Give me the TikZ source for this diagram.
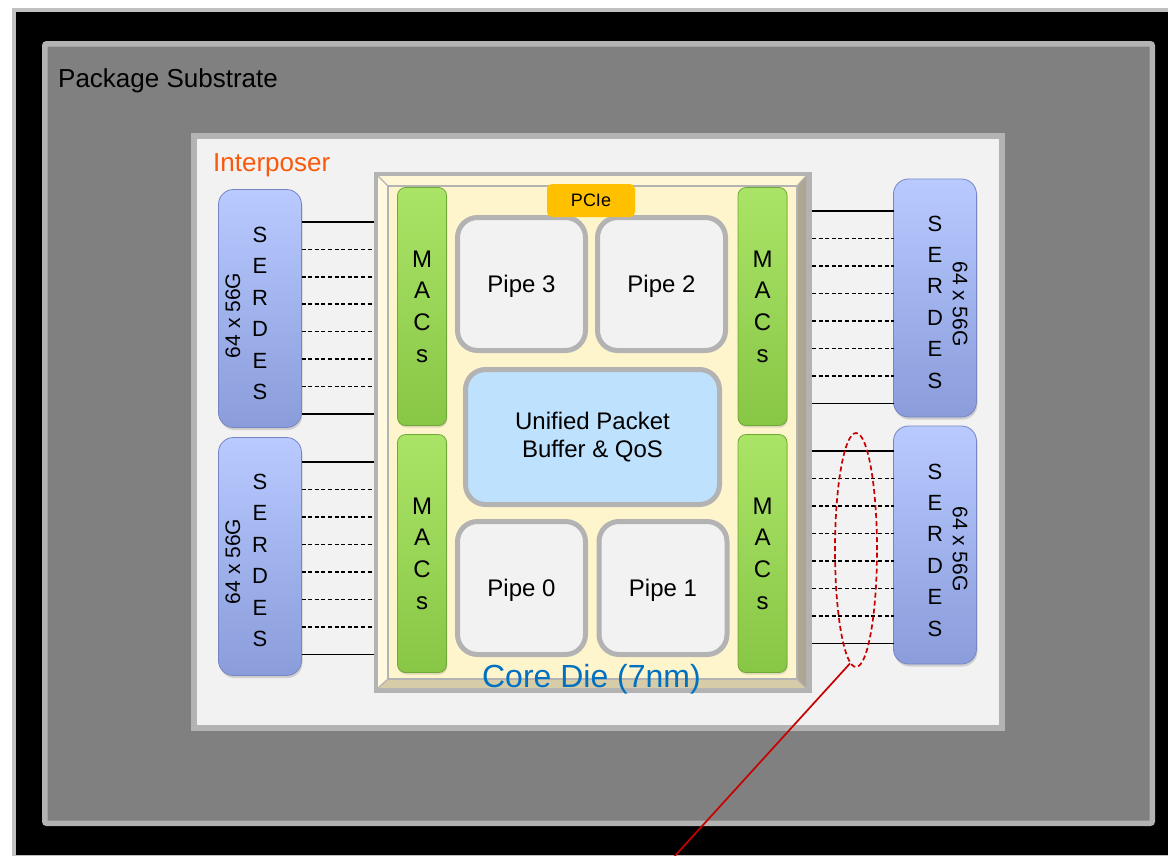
\documentclass[tikz,border=0pt]{standalone}
\usepackage{fontspec}
\setmainfont{Liberation Sans}
\usetikzlibrary{shapes.geometric,shadows,calc}

\definecolor{frameGray}{RGB}{179,179,179}
\definecolor{subGray}{RGB}{128,128,128}
\definecolor{interFill}{RGB}{242,242,242}
\definecolor{interText}{RGB}{250,88,10}
\definecolor{dieCream}{RGB}{255,245,204}
\definecolor{bevelTop}{RGB}{255,247,214}
\definecolor{bevelLeft}{RGB}{255,249,224}
\definecolor{bevelRight}{RGB}{172,166,146}
\definecolor{bevelBottom}{RGB}{214,204,168}
\definecolor{dieBlue}{RGB}{0,112,192}
\definecolor{pipeFill}{RGB}{242,242,242}
\definecolor{bufFill}{RGB}{190,225,253}
\definecolor{pcieFill}{RGB}{255,192,0}
\definecolor{macTop}{RGB}{170,228,102}
\definecolor{macBot}{RGB}{136,198,70}
\definecolor{macEdge}{RGB}{110,168,54}
\definecolor{serTop}{RGB}{184,202,255}
\definecolor{serBot}{RGB}{138,156,218}
\definecolor{serEdge}{RGB}{118,134,196}
\definecolor{markRed}{RGB}{200,0,0}
\definecolor{rimGray}{RGB}{192,192,192}

\begin{document}
\begin{tikzpicture}[x=1pt,y=-1pt,
  serdes/.style={rounded corners=15pt, draw=serEdge, line width=0.8pt,
    top color=serTop, bottom color=serBot, minimum width=83pt,
    minimum height=238pt, inner sep=0pt, outer sep=0pt,
    drop shadow={opacity=0.3,shadow xshift=1pt,shadow yshift=-2.5pt}},
  letters/.style={align=center, inner sep=0pt, font=\fontsize{22}{31.4}\selectfont},
  rate/.style={inner sep=0pt, font=\fontsize{21}{24}\selectfont},
  mac/.style={rounded corners=8pt, draw=macEdge, line width=0.8pt,
    top color=macTop, bottom color=macBot, minimum width=49pt,
    minimum height=238pt, inner sep=0pt, align=center,
    font=\fontsize{24}{31.7}\selectfont,
    drop shadow={opacity=0.25,shadow xshift=0.8pt,shadow yshift=-2pt}},
  pipe/.style={rounded corners=20pt, draw=frameGray, line width=5pt,
    fill=pipeFill, minimum width=128pt, minimum height=133pt,
    inner sep=0pt, text depth=0pt, font=\fontsize{24}{28}\selectfont},
  wire/.style={line width=1.6pt},
  dashwire/.style={line width=1.5pt, dash pattern=on 4pt off 2.6pt},
  facet/.style={draw=frameGray, line width=1.2pt, line join=round}
]
\useasboundingbox (0,0) rectangle (1168,855);
\fill[white] (0,0) rectangle (1168,855);

% outer board, package substrate and interposer layers
\draw[rimGray, line width=4pt, fill=black] (14,10) rectangle (1190,857);
\draw[frameGray, line width=5.5pt, fill=subGray, rounded corners=2pt]
  (44.75,43.75) rectangle (1152.25,823.25);
\node[anchor=base west, inner sep=0pt, font=\fontsize{26}{30}\selectfont]
  (subLabel) at (58,87) {Package Substrate};
\draw[frameGray, line width=6pt, fill=interFill] (194,136) rectangle (1002,728);
\node[anchor=base west, inner sep=0pt, text=interText, font=\fontsize{26}{30}\selectfont]
  (interLabel) at (213,171) {Interposer};

% core die with bevelled frame
\node[fill=frameGray, minimum width=438pt, minimum height=521pt,
  inner sep=0pt, outer sep=0pt] (die) at (593,432.5) {};
\fill[bevelTop] (378,176) -- (806,176) -- (797,186) -- (388,186) -- cycle;
\fill[bevelLeft] (378,176) -- (388,186) -- (388,679) -- (378,688) -- cycle;
\fill[bevelRight] (806,176) -- (806,688) -- (797,679) -- (797,186) -- cycle;
\fill[bevelBottom] (378,688) -- (806,688) -- (797,679) -- (388,679) -- cycle;
\draw[facet] (378,176) -- (388,186) (806,176) -- (797,186)
  (378,688) -- (388,679) (806,688) -- (797,679);
\draw[frameGray, line width=2pt, fill=dieCream] (388,186) rectangle (797,679);

% MAC blocks
\node[mac] (mL1) at (422,306.5) {M\\A\\C\\s};
\node[mac] (mL2) at (422,553.5) {M\\A\\C\\s};
\node[mac] (mR1) at (762.5,306.5) {M\\A\\C\\s};
\node[mac] (mR2) at (762.5,553.5) {M\\A\\C\\s};

% pipelines and shared buffer
\node[pipe] (p3) at (521.5,284) {Pipe 3};
\node[pipe] (p2) at (661.5,284) {Pipe 2};
\node[pipe] (p0) at (521.5,588) {Pipe 0};
\node[pipe] (p1) at (663,588) {Pipe 1};
\node[rounded corners=20pt, draw=frameGray, line width=5pt, fill=bufFill,
  minimum width=254pt, minimum height=135pt, inner sep=0pt, align=center,
  font=\fontsize{24}{28}\selectfont] (buf) at (592.5,437) {Unified Packet\\Buffer \& QoS};
\node[rounded corners=5pt, fill=pcieFill, minimum width=88pt, minimum height=33pt,
  inner sep=0pt, font=\fontsize{18}{20}\selectfont] (pcie) at (591,200.5) {PCIe};
\node[anchor=base, inner sep=0pt, text=dieBlue, font=\fontsize{32}{36}\selectfont]
  (dieLabel) at (591.5,687) {Core Die (7nm)};

% SERDES blocks
\node[serdes] (sL1) at (260,308.5) {};
\node[serdes] (sL2) at (260,556.5) {};
\node[serdes] (sR1) at (935,298) {};
\node[serdes] (sR2) at (935,545) {};
\node[letters] (sL1t) at ($(sL1.center)+(0,5)$) {S\\E\\R\\D\\E\\S};
\node[letters] (sL2t) at ($(sL2.center)+(0,4)$) {S\\E\\R\\D\\E\\S};
\node[letters] (sR1t) at ($(sR1.center)+(0,4)$) {S\\E\\R\\D\\E\\S};
\node[letters] (sR2t) at ($(sR2.center)+(0,5)$) {S\\E\\R\\D\\E\\S};
\node[rate, rotate=90] (sL1r) at ($(sL1.center)+(-27,7)$) {64 x 56G};
\node[rate, rotate=90] (sL2r) at ($(sL2.center)+(-27,5)$) {64 x 56G};
\node[rate, rotate=-90] (sR1r) at ($(sR1.center)+(25,6)$) {64 x 56G};
\node[rate, rotate=-90] (sR2r) at ($(sR2.center)+(25,4)$) {64 x 56G};

% SERDES lanes into the die
\foreach \yy in {222,414} \draw[wire] (sL1.east |- 0,\yy) -- (die.west |- 0,\yy);
\foreach \yy in {249.4,276.8,304.2,331.6,359,386.4}
  \draw[dashwire] (sL1.east |- 0,\yy) -- (die.west |- 0,\yy);
\foreach \yy in {462,654.5} \draw[wire] (sL2.east |- 0,\yy) -- (die.west |- 0,\yy);
\foreach \yy in {489.5,517,544.5,572,599.5,627}
  \draw[dashwire] (sL2.east |- 0,\yy) -- (die.west |- 0,\yy);
\foreach \yy in {211,403.5} \draw[wire] (die.east |- 0,\yy) -- (sR1.west |- 0,\yy);
\foreach \yy in {238.5,266,293.5,321,348.5,376}
  \draw[dashwire] (die.east |- 0,\yy) -- (sR1.west |- 0,\yy);
\foreach \yy in {451,643.5} \draw[wire] (die.east |- 0,\yy) -- (sR2.west |- 0,\yy);
\foreach \yy in {478.5,506,533.5,561,588.5,616}
  \draw[dashwire] (die.east |- 0,\yy) -- (sR2.west |- 0,\yy);

% highlighted lane group and call-out line
\node[ellipse, draw=markRed, line width=1.7pt, dash pattern=on 5pt off 3pt,
  minimum width=42pt, minimum height=234pt, inner sep=0pt] (ring) at (856,550) {};
\coordinate (tail) at (673,858);
\draw[markRed, line width=1.7pt] (ring.267) -- (tail);
\end{tikzpicture}
\end{document}
